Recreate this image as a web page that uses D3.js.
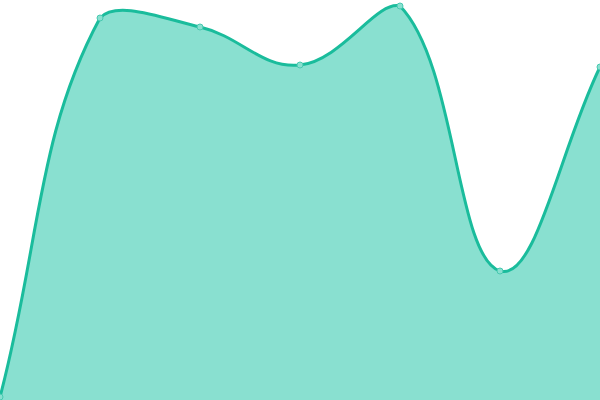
<!DOCTYPE html>
<html>
<head>
<meta charset="utf-8">
<script src="https://cdn.jsdelivr.net/npm/d3@7"></script>
<style>
  html, body { margin:0; padding:0; background:#fff; }
  svg { display:block; }
</style>
</head>
<body>
<svg id="chart" width="600" height="400"></svg>
<script>
// --- Data ---
const labels = ["A", "B", "C", "D", "E", "F", "G"];
const values = [3, 382, 373, 335, 394, 129, 333];

// --- SVG ---
const W = 600, H = 400;
const TENSION = 0.4;
const svg = d3.select("#chart");

const x = d3.scalePoint().domain(labels).range([0, W]);
const y = d3.scaleLinear().domain([0, 400]).range([H, 0]);

const pts = labels.map((l, i) => ({ x: x(l), y: y(values[i]) }));

// spline control points, distance-weighted, capped to the plot area
const clampX = v => Math.max(0, Math.min(W, v));
const clampY = v => Math.max(0, Math.min(H, v));
pts.forEach((p, i) => {
  const prev = pts[i - 1] || p, next = pts[i + 1] || p;
  const d01 = Math.hypot(p.x - prev.x, p.y - prev.y);
  const d12 = Math.hypot(next.x - p.x, next.y - p.y);
  const sum = d01 + d12 || 1;
  const fa = TENSION * d01 / sum, fb = TENSION * d12 / sum;
  p.cpPrev = [clampX(p.x - fa * (next.x - prev.x)), clampY(p.y - fa * (next.y - prev.y))];
  p.cpNext = [clampX(p.x + fb * (next.x - prev.x)), clampY(p.y + fb * (next.y - prev.y))];
});

function splinePath(closeToBottom){
  const path = d3.path();
  path.moveTo(pts[0].x, pts[0].y);
  for (let i = 1; i < pts.length; i++){
    const a = pts[i - 1], b = pts[i];
    path.bezierCurveTo(a.cpNext[0], a.cpNext[1], b.cpPrev[0], b.cpPrev[1], b.x, b.y);
  }
  if (closeToBottom){
    path.lineTo(pts[pts.length - 1].x, H);
    path.lineTo(pts[0].x, H);
    path.closePath();
  }
  return path.toString();
}

svg.append("path")
  .attr("d", splinePath(true))
  .attr("fill", "#89e0d0");

svg.append("path")
  .attr("d", splinePath(false))
  .attr("fill", "none")
  .attr("stroke", "#1abc9c")
  .attr("stroke-width", 3);

svg.selectAll("circle.pt").data(pts).enter().append("circle")
  .attr("class", "pt")
  .attr("cx", d => d.x)
  .attr("cy", d => d.y)
  .attr("r", 3)
  .attr("fill", "#89e0d0")
  .attr("stroke", "#48c9b0")
  .attr("stroke-width", 1);
</script>
</body>
</html>
